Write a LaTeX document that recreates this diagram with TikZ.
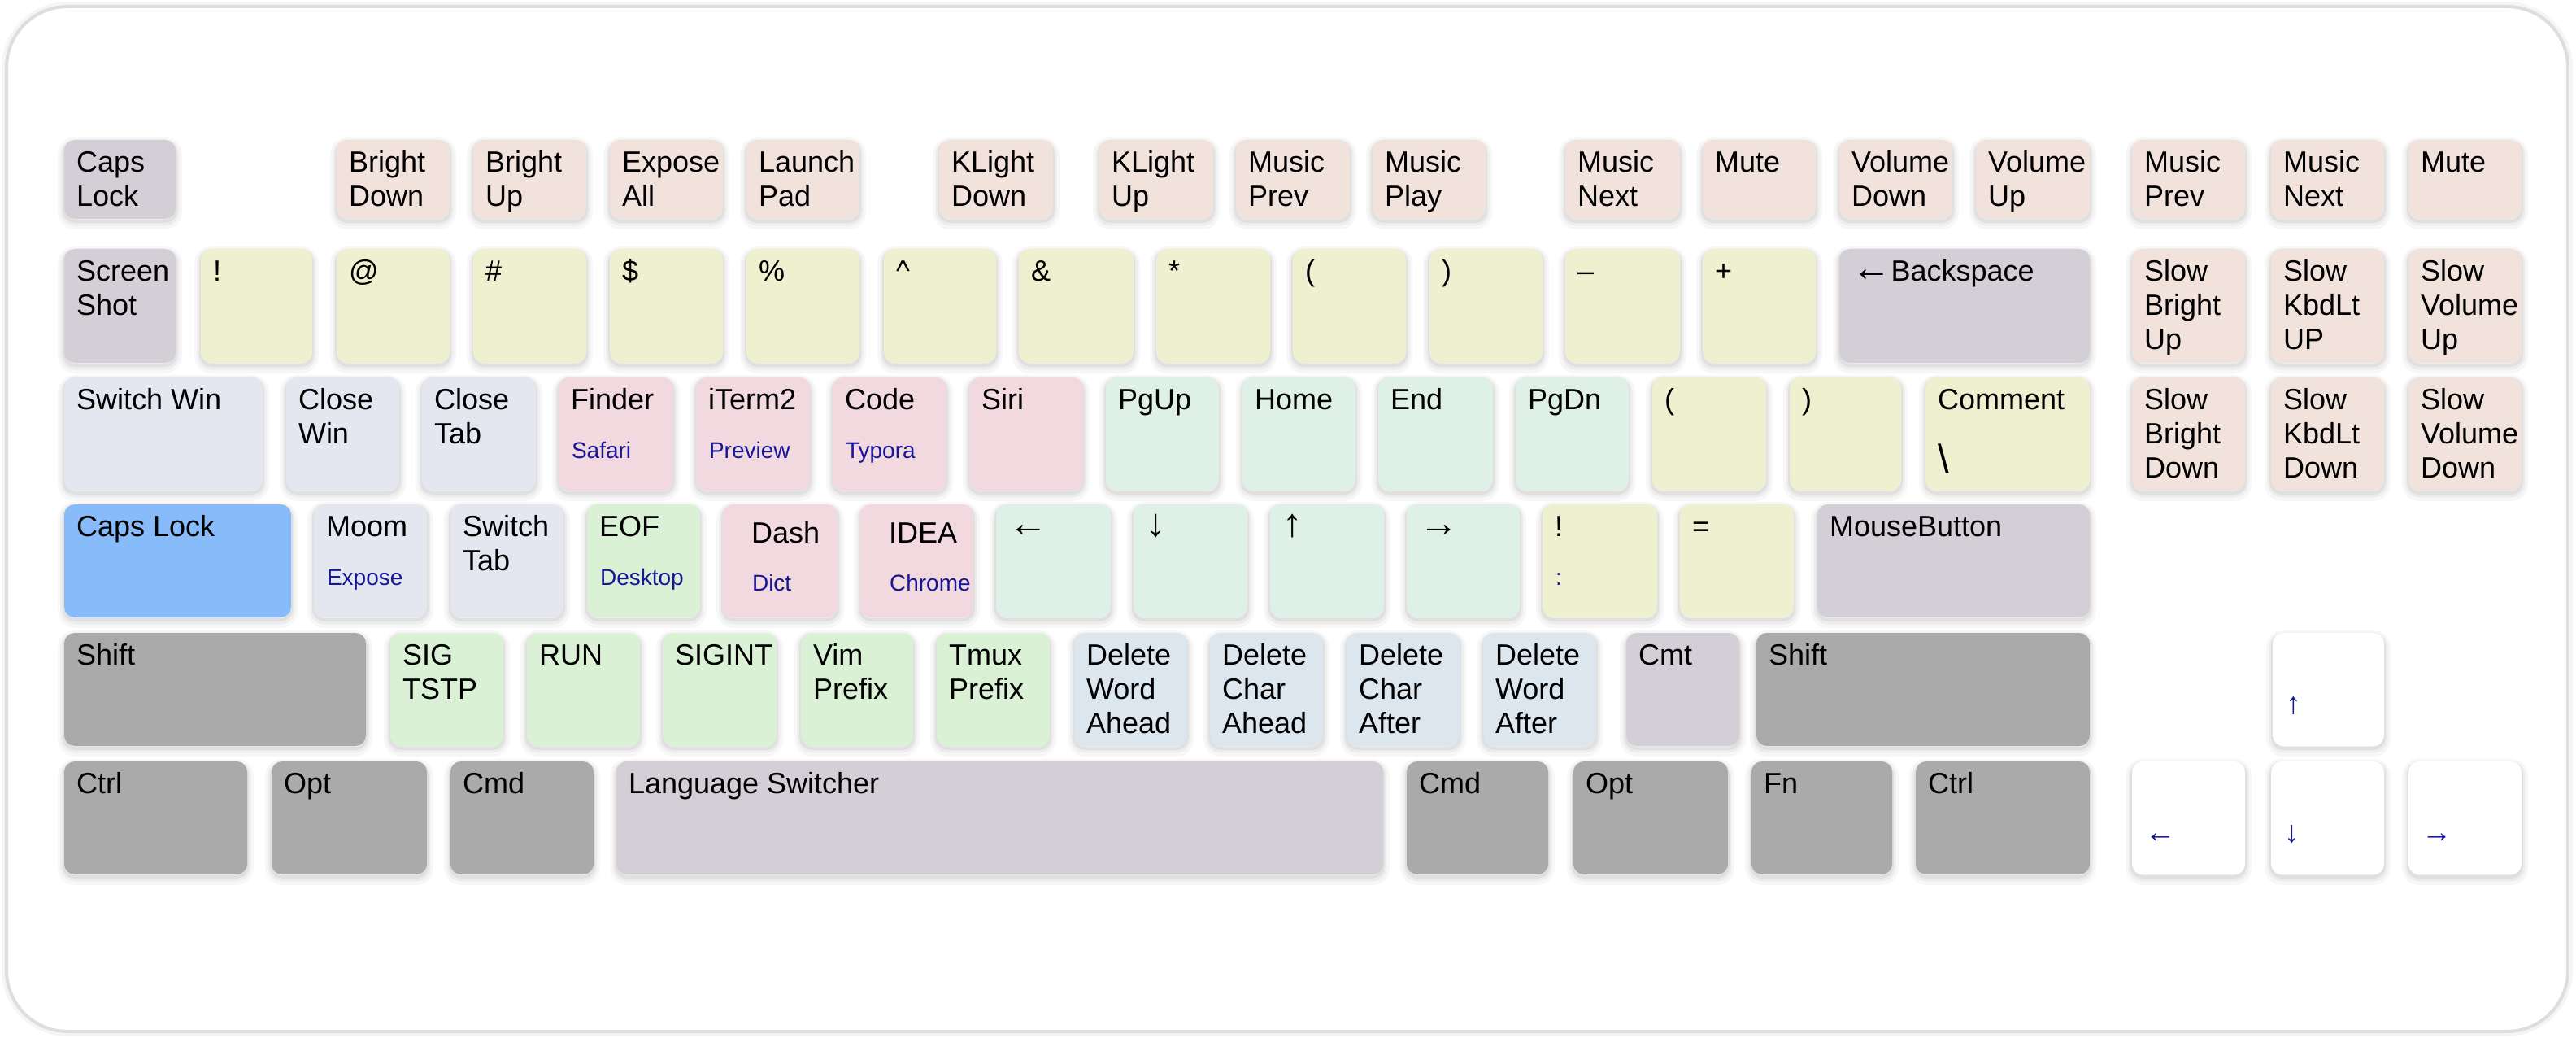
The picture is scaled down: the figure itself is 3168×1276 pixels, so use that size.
\documentclass[tikz,border=0pt]{standalone}
\usepackage{fontspec}
\setmainfont{Liberation Sans}
\definecolor{cpeach}{RGB}{242,226,220}
\definecolor{cyellow}{RGB}{239,240,208}
\definecolor{clav}{RGB}{212,207,214}
\definecolor{cbgrey}{RGB}{228,231,239}
\definecolor{cpink}{RGB}{242,217,224}
\definecolor{cmint}{RGB}{223,240,231}
\definecolor{cblue}{RGB}{135,187,250}
\definecolor{cgreen}{RGB}{218,241,213}
\definecolor{clblue}{RGB}{219,230,239}
\definecolor{cdark}{RGB}{170,170,170}
\definecolor{cnavy}{RGB}{22,22,150}
\tikzset{
  keybox/.style={rectangle, rounded corners=0.13cm, inner sep=0pt, draw=none,
    preaction={draw=black, draw opacity=0.03, line width=0.16cm, transform canvas={yshift=-0.05cm}},
    preaction={draw=black, draw opacity=0.04, line width=0.09cm, transform canvas={yshift=-0.04cm}},
    preaction={draw=black, draw opacity=0.05, line width=0.04cm, transform canvas={yshift=-0.03cm}}},
  primary/.style={anchor=base west, inner sep=0pt, font=\fontsize{10.24pt}{11.95pt}\selectfont, text=black},
  secondary/.style={anchor=base west, inner sep=0pt, font=\fontsize{7.97pt}{9pt}\selectfont, text=cnavy},
  framebox/.style={rounded corners=0.75cm, fill=white, draw=black!13, line width=0.04cm,
    preaction={draw=black, draw opacity=0.04, line width=0.12cm}},
}
\newcommand{\kl}[1]{\vtop{\halign{##\hfil\cr#1\crcr}}}
\newcommand{\bigarr}[1]{{\fontsize{13.8pt}{14pt}\selectfont #1}}
\newcommand{\smarr}[1]{{\fontsize{10.6pt}{11pt}\selectfont #1}}
\def\kpx{0.15cm}\def\kpy{0.40cm}\def\ksx{0.16cm}\def\ksy{1.00cm}
\newcommand{\K}[8]{%
  \node[keybox, fill=#6, minimum width={(#3-#2)*0.01cm}, minimum height={(#5-#4)*0.01cm}] (#1) at ({(#2+#3)/2},{(#4+#5)/2}) {};
  \if\relax\detokenize{#7}\relax\else
    \node[primary] (#1p) at ([xshift=\kpx,yshift=-\kpy]#1.north west) {\kl{#7}};\fi
  \if\relax\detokenize{#8}\relax\else
    \node[secondary] (#1s) at ([xshift=\ksx,yshift=-\ksy]#1.north west) {#8};\fi
}
\begin{document}
\begin{tikzpicture}[x=0.01cm, y=-0.01cm]
\useasboundingbox (0,0) rectangle (3168,1276);
\fill[white] (0,0) rectangle (3168,1276);
\draw[framebox] (8,8) rectangle (3158,1268);
% ---- row 1
\K{fcaps}{79}{216}{172}{269}{clav}{Caps\cr Lock}{}
\K{fbd}{414}{553}{172}{269}{cpeach}{Bright\cr Down}{}
\K{fbu}{582}{721}{172}{269}{cpeach}{Bright\cr Up}{}
\K{fexp}{750}{889}{172}{269}{cpeach}{Expose\cr All}{}
\K{flp}{918}{1057}{172}{269}{cpeach}{Launch\cr Pad}{}
\K{fkd}{1155}{1295}{172}{269}{cpeach}{KLight\cr Down}{}
\K{fku}{1352}{1492}{172}{269}{cpeach}{KLight\cr Up}{}
\K{fmp}{1520}{1660}{172}{269}{cpeach}{Music\cr Prev}{}
\K{fpl}{1688}{1827}{172}{269}{cpeach}{Music\cr Play}{}
\K{fmn}{1925}{2066}{172}{269}{cpeach}{Music\cr Next}{}
\K{fmu}{2094}{2233}{172}{269}{cpeach}{Mute}{}
\K{fvd}{2262}{2401}{172}{269}{cpeach}{Volume\cr Down}{}
\K{fvu}{2430}{2570}{172}{269}{cpeach}{Volume\cr Up}{}
\K{xmp}{2622}{2761}{172}{269}{cpeach}{Music\cr Prev}{}
\K{xmn}{2793}{2932}{172}{269}{cpeach}{Music\cr Next}{}
\K{xmu}{2962}{3101}{172}{269}{cpeach}{Mute}{}
% ---- row 2
\K{ss}{79}{216}{306}{446}{clav}{Screen\cr Shot}{}
\K{n1}{247}{384}{306}{446}{cyellow}{!}{}
\K{n2}{414}{553}{306}{446}{cyellow}{@}{}
\K{n3}{582}{721}{306}{446}{cyellow}{\#}{}
\K{n4}{750}{889}{306}{446}{cyellow}{\$}{}
\K{n5}{918}{1057}{306}{446}{cyellow}{\%}{}
\K{n6}{1087}{1225}{306}{446}{cyellow}{\textasciicircum}{}
\K{n7}{1253}{1394}{306}{446}{cyellow}{\&}{}
\K{n8}{1422}{1562}{306}{446}{cyellow}{*}{}
\K{n9}{1590}{1729}{306}{446}{cyellow}{(}{}
\K{n0}{1758}{1897}{306}{446}{cyellow}{)}{}
\K{nminus}{1925}{2066}{306}{446}{cyellow}{–}{}
\K{nplus}{2094}{2233}{306}{446}{cyellow}{+}{}
\K{bksp}{2262}{2570}{306}{446}{clav}{\bigarr{←}Backspace}{}
\K{sbu}{2622}{2761}{306}{446}{cpeach}{Slow\cr Bright\cr Up}{}
\K{sku}{2793}{2932}{306}{446}{cpeach}{Slow\cr KbdLt\cr UP}{}
\K{svu}{2962}{3101}{306}{446}{cpeach}{Slow\cr Volume\cr Up}{}
% ---- row 3
\K{swin}{79}{323}{464}{603}{cbgrey}{Switch Win}{}
\K{cwin}{352}{491}{464}{603}{cbgrey}{Close\cr Win}{}
\K{ctab}{519}{659}{464}{603}{cbgrey}{Close\cr Tab}{}
\K{finder}{687}{828}{464}{603}{cpink}{Finder}{Safari}
\K{iterm}{856}{996}{464}{603}{cpink}{iTerm2}{Preview}
\K{code}{1024}{1164}{464}{603}{cpink}{Code}{Typora}
\K{siri}{1192}{1332}{464}{603}{cpink}{Siri}{}
\K{pgup}{1360}{1499}{464}{603}{cmint}{PgUp}{}
\K{home}{1528}{1667}{464}{603}{cmint}{Home}{}
\K{kend}{1695}{1836}{464}{603}{cmint}{End}{}
\K{pgdn}{1864}{2003}{464}{603}{cmint}{PgDn}{}
\K{lpar}{2032}{2172}{464}{603}{cyellow}{(}{}
\K{rpar}{2201}{2338}{464}{603}{cyellow}{)}{}
\K{comment}{2368}{2570}{464}{603}{cyellow}{Comment}{}
\node[anchor=base west, inner sep=0pt, font=\fontsize{14pt}{14pt}\selectfont] (commentbs) at ([xshift=0.15cm,yshift=-1.18cm]comment.north west) {\textbackslash};
\K{sbd}{2622}{2761}{464}{603}{cpeach}{Slow\cr Bright\cr Down}{}
\K{skd}{2793}{2932}{464}{603}{cpeach}{Slow\cr KbdLt\cr Down}{}
\K{svd}{2962}{3101}{464}{603}{cpeach}{Slow\cr Volume\cr Down}{}
% ---- row 4
\K{caps}{79}{358}{620}{759}{cblue}{Caps Lock}{}
\K{moom}{386}{525}{620}{759}{cbgrey}{Moom}{Expose}
\K{stab}{554}{693}{620}{759}{cbgrey}{Switch\cr Tab}{}
\K{eof}{722}{861}{620}{759}{cgreen}{EOF}{Desktop}
{\def\kpx{0.35cm}\def\kpy{0.48cm}\def\ksx{0.36cm}\def\ksy{1.07cm}
\K{dash}{889}{1030}{620}{759}{cpink}{Dash}{Dict}
\K{idea}{1058}{1197}{620}{759}{cpink}{IDEA}{Chrome}}
\K{aleft}{1225}{1366}{620}{759}{cmint}{\bigarr{←}}{}
\K{adown}{1394}{1534}{620}{759}{cmint}{\bigarr{↓}}{}
\K{aup}{1562}{1702}{620}{759}{cmint}{\bigarr{↑}}{}
\K{aright}{1730}{1869}{620}{759}{cmint}{\bigarr{→}}{}
\K{excl}{1897}{2038}{620}{759}{cyellow}{!}{:}
\K{equal}{2066}{2206}{620}{759}{cyellow}{=}{}
\K{mouse}{2235}{2570}{620}{759}{clav}{MouseButton}{}
% ---- row 5
\K{lshift}{79}{450}{778}{917}{cdark}{Shift}{}
\K{tstp}{480}{619}{778}{917}{cgreen}{SIG\cr TSTP}{}
\K{run}{648}{787}{778}{917}{cgreen}{RUN}{}
\K{sigint}{815}{955}{778}{917}{cgreen}{SIGINT}{}
\K{vim}{985}{1123}{778}{917}{cgreen}{Vim\cr Prefix}{}
\K{tmux}{1152}{1291}{778}{917}{cgreen}{Tmux\cr Prefix}{}
\K{dwa}{1321}{1460}{778}{917}{clblue}{Delete\cr Word\cr Ahead}{}
\K{dca}{1488}{1627}{778}{917}{clblue}{Delete\cr Char\cr Ahead}{}
\K{dcf}{1656}{1795}{778}{917}{clblue}{Delete\cr Char\cr After}{}
\K{dwf}{1824}{1963}{778}{917}{clblue}{Delete\cr Word\cr After}{}
\K{cmt}{2000}{2139}{778}{917}{clav}{Cmt}{}
\K{rshift}{2160}{2570}{778}{917}{cdark}{Shift}{}
\K{xup}{2795}{2932}{778}{917}{white}{}{\smarr{↑}}
% ---- row 6
\K{lctrl}{79}{304}{936}{1075}{cdark}{Ctrl}{}
\K{lopt}{334}{525}{936}{1075}{cdark}{Opt}{}
\K{lcmd}{554}{730}{936}{1075}{cdark}{Cmd}{}
\K{lang}{758}{1701}{936}{1075}{clav}{Language Switcher}{}
\K{rcmd}{1730}{1904}{936}{1075}{cdark}{Cmd}{}
\K{ropt}{1935}{2125}{936}{1075}{cdark}{Opt}{}
\K{fn}{2154}{2327}{936}{1075}{cdark}{Fn}{}
\K{rctrl}{2356}{2570}{936}{1075}{cdark}{Ctrl}{}
\K{xleft}{2622}{2761}{936}{1075}{white}{}{\smarr{←}}
\K{xdown}{2793}{2932}{936}{1075}{white}{}{\smarr{↓}}
\K{xright}{2962}{3101}{936}{1075}{white}{}{\smarr{→}}
\end{tikzpicture}
\end{document}
